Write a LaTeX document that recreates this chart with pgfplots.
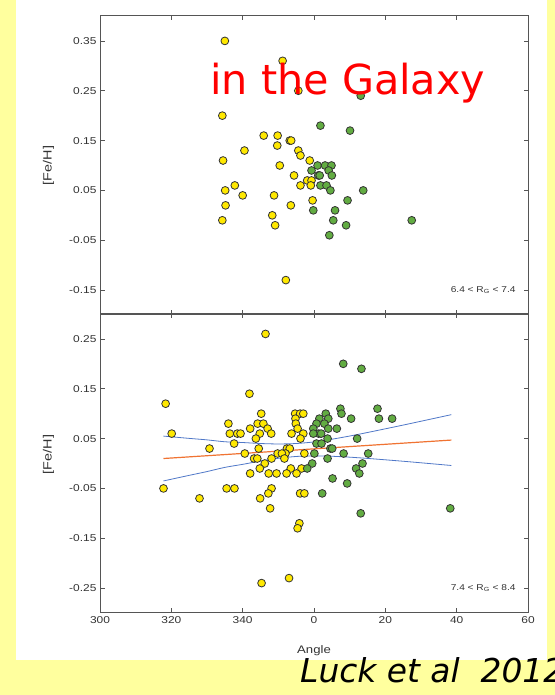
\documentclass[border=0pt]{standalone}
\usepackage{fontspec}
\setmainfont{Liberation Sans}[FakeStretch=1.2]
\newfontfamily\djv{DejaVu Sans}
\usepackage{pgfplots}
\pgfplotsset{compat=1.18}
\definecolor{bgy}{RGB}{255,255,158}
\definecolor{dotY}{RGB}{255,232,0}
\definecolor{dotG}{RGB}{98,172,66}
\definecolor{lblue}{RGB}{80,120,200}
\definecolor{lorange}{RGB}{240,115,50}
\definecolor{frame}{RGB}{85,85,85}
\begin{document}
\begin{tikzpicture}[x=1bp,y=1bp]
\fill[bgy] (0,0) rectangle (555,695);
\fill[white] (16,35) rectangle (547,695);
\pgfplotsset{
  fe/.style={scale only axis, width=428bp, height=299bp,
    xmin=-60, xmax=60,
    axis line style={frame, line width=1bp},
    tick style={frame, line width=0.8bp},
    major tick length=4.5bp, tick align=inside,
    xtick={-60,-40,...,60},
    ticklabel style={font=\fontsize{10}{12}\selectfont, text=black!80},
    ylabel={[Fe/H]},
    ylabel style={font=\fontsize{12}{14}\selectfont, text=black!80, anchor=center},
    clip=false},
  ydot/.style={only marks, mark=*, mark size=3.9bp, mark options={fill=dotY, draw=black!80, line width=0.8bp}},
  gdot/.style={only marks, mark=*, mark size=3.9bp, mark options={fill=dotG, draw=black!80, line width=0.8bp}},
}
% ---------------- top panel ----------------
\begin{axis}[fe, at={(100bp,380bp)}, anchor=south west,
  ymin=-0.2, ymax=0.4,
  ytick={-0.15,-0.05,0.05,0.15,0.25,0.35},
  yticklabels={-0.15,-0.05,0.05,0.15,0.25,0.35},
  xticklabels=\empty,
  ylabel style={at={(axis description cs:-0.1203,0.5)}}]
\addplot[ydot] coordinates {
(-25.0,0.35) (-8.8,0.31) (-4.4,0.25) (-25.7,0.20) (-14.1,0.16) (-10.2,0.16)
(-6.8,0.15) (-6.4,0.15) (-10.3,0.14) (-19.5,0.13) (-4.4,0.13) (-3.8,0.12)
(-25.5,0.11) (-1.2,0.11) (-9.6,0.10) (-5.6,0.08) (-1.9,0.07) (-0.7,0.07)
(-22.2,0.06) (-3.8,0.06) (-0.9,0.06) (-24.9,0.05) (-20.0,0.04) (-11.2,0.04)
(-0.4,0.03) (-24.8,0.02) (-6.5,0.02) (-11.7,0.00) (-25.7,-0.01) (-10.9,-0.02)
(-7.9,-0.13)};
\addplot[gdot] coordinates {
(13.1,0.24) (1.8,0.18) (10.1,0.17) (1.0,0.10) (3.1,0.10) (4.9,0.10)
(-0.7,0.09) (4.1,0.09) (1.2,0.08) (1.6,0.08) (5.0,0.08) (1.8,0.06)
(3.5,0.06) (4.6,0.05) (13.8,0.05) (9.4,0.03) (-0.2,0.01) (5.9,0.01)
(5.4,-0.01) (9.0,-0.02) (27.4,-0.01) (4.3,-0.04)};
\node[anchor=east, font=\fontsize{8.5}{10}\selectfont, text=black!80] at (axis cs:57.5,-0.15) {6.4 < R\textsubscript{G} < 7.4};
\end{axis}
% ---------------- bottom panel ----------------
\begin{axis}[fe, at={(100bp,82bp)}, anchor=south west,
  ymin=-0.3, ymax=0.3,
  ytick={-0.25,-0.15,-0.05,0.05,0.15,0.25},
  yticklabels={-0.25,-0.15,-0.05,0.05,0.15,0.25},
  xticklabels={300,320,340,0,20,40,60},
  xlabel={Angle},
  xlabel style={font=\fontsize{11}{13}\selectfont, text=black!80, at={(axis description cs:0.5,-0.126)}, anchor=center},
  ylabel style={at={(axis description cs:-0.1203,0.53)}}]
\addplot[ydot] coordinates {
(-41.6,0.12) (-39.9,0.06) (-42.2,-0.05) (-32.1,-0.07) (-29.3,0.03)
(-24.0,0.08) (-23.6,0.06) (-21.5,0.06) (-20.6,0.06) (-22.4,0.04) (-19.4,0.02)
(-18.1,0.14) (-17.9,0.07) (-14.8,0.10) (-15.8,0.08) (-14.2,0.08) (-13.0,0.07)
(-15.2,0.06) (-12.0,0.06) (-16.3,0.05) (-15.5,0.03) (-16.8,0.01) (-15.9,0.01)
(-11.9,0.01) (-10.2,0.02) (-13.8,0.00) (-15.2,-0.01) (-17.9,-0.02) (-12.7,-0.02)
(-10.5,-0.02) (-24.5,-0.05) (-22.3,-0.05) (-11.9,-0.05) (-12.8,-0.06) (-15.1,-0.07)
(-12.3,-0.09) (-13.6,0.26) (-14.7,-0.24)
(-5.3,0.10) (-3.9,0.10) (-3.0,0.10) (-5.2,0.09) (-5.1,0.08) (-4.6,0.07)
(-6.3,0.06) (-3.0,0.06) (-3.8,0.05) (-7.6,0.03) (-6.8,0.03) (-8.0,0.02)
(-9.0,0.02) (-8.3,0.01) (-2.7,0.02) (-6.5,-0.01) (-3.5,-0.01) (-7.7,-0.02)
(-4.9,-0.02) (-3.9,-0.06) (-2.7,-0.06) (-4.1,-0.12) (-4.6,-0.13) (-7.0,-0.23)};
\addplot[gdot] coordinates {
(8.2,0.20) (13.3,0.19) (7.4,0.11) (7.7,0.10) (10.4,0.09) (17.8,0.11) (18.2,0.09) (21.9,0.09)
(3.3,0.10) (1.5,0.09) (4.0,0.09) (2.9,0.08) (0.7,0.08) (4.0,0.07) (-0.2,0.07) (6.4,0.07)
(1.3,0.06) (2.0,0.06) (-0.2,0.06) (3.8,0.05) (12.1,0.05) (0.7,0.04) (2.1,0.04)
(4.6,0.03) (5.1,0.03) (0.1,0.02) (8.3,0.02) (15.2,0.02) (3.8,0.01) (13.6,0.00)
(-0.5,0.00) (-1.9,-0.01) (11.8,-0.01) (12.7,-0.02) (5.2,-0.03) (9.3,-0.04)
(2.3,-0.06) (13.1,-0.10) (38.2,-0.09)};
\addplot[lorange, line width=1.2bp] coordinates {(-42.2,0.010) (38.5,0.047)};
\addplot[lblue, line width=0.8bp, smooth] coordinates {
(-42.2,0.0550) (-35,0.0504) (-30,0.0474) (-25,0.0436) (-20,0.0421) (-15,0.0401)
(-10,0.0392) (-5,0.0401) (0,0.0433) (5,0.0487) (10,0.0551) (15,0.0622)
(20,0.0696) (25,0.0771) (30,0.0848) (38.5,0.0980)};
\addplot[lblue, line width=0.8bp, smooth] coordinates {
(-42.2,-0.0350) (-35,-0.0238) (-30,-0.0162) (-25,-0.0078) (-20,-0.0017) (-15,0.0049)
(-10,0.0104) (-5,0.0141) (0,0.0153) (5,0.0145) (10,0.0127) (15,0.0102)
(20,0.0074) (25,0.0045) (30,0.0014) (38.5,-0.0040)};
\node[anchor=east, font=\fontsize{8.5}{10}\selectfont, text=black!80] at (axis cs:57.5,-0.25) {7.4 < R\textsubscript{G} < 8.4};
\end{axis}
\node[anchor=base west, text=red, font=\djv\fontsize{41.5}{50}\selectfont, inner sep=0pt] at (210,600) {in the Galaxy};
\node[anchor=base west, font=\djv\itshape\fontsize{33}{40}\selectfont, inner sep=0pt] at (300,12.3) {Luck et al\ \ 2012};
\pgfresetboundingbox
\useasboundingbox (0,0) rectangle (555,695);
\end{tikzpicture}
\end{document}
